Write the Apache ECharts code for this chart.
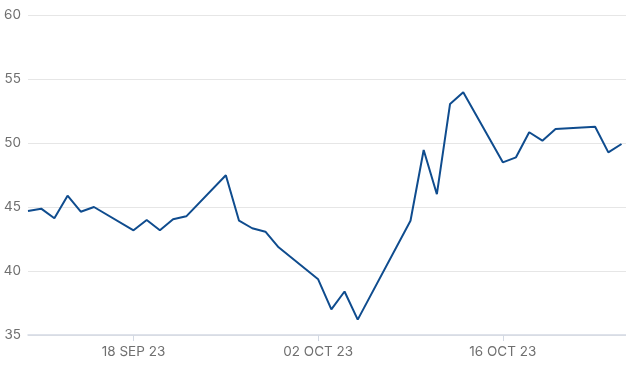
<!DOCTYPE html>
<html>
<head>
<meta charset="utf-8">
<script src="https://cdn.jsdelivr.net/npm/echarts@6/dist/echarts.min.js"></script>
<style>
html,body{margin:0;padding:0;background:#fff;}
#c{width:626px;height:377px;}
</style>
</head>
<body>
<div id="c"></div>
<script>
var dates = [
  '2023-09-10','2023-09-11','2023-09-12','2023-09-13','2023-09-14','2023-09-15',
  '2023-09-18','2023-09-19','2023-09-20','2023-09-21','2023-09-22',
  '2023-09-25','2023-09-26','2023-09-27','2023-09-28','2023-09-29',
  '2023-10-02','2023-10-03','2023-10-04','2023-10-05',
  '2023-10-09','2023-10-10','2023-10-11','2023-10-12','2023-10-13',
  '2023-10-16','2023-10-17','2023-10-18','2023-10-19','2023-10-20',
  '2023-10-23','2023-10-24','2023-10-25'
];
var values = [
  44.69, 44.87, 44.12, 45.88, 44.63, 45.00,
  43.18, 43.98, 43.18, 44.04, 44.27,
  47.48, 43.93, 43.34, 43.07, 41.85,
  39.35, 37.00, 38.40, 36.20,
  43.93, 49.45, 46.00, 53.05, 53.96,
  48.49, 48.88, 50.84, 50.18, 51.10,
  51.27, 49.27, 49.92
];
var xTickDates = ['2023-09-18','2023-10-02','2023-10-16'];
var xTickLabels = ['18 SEP 23','02 OCT 23','16 OCT 23'];
var yTicks = [35, 40, 45, 50, 55, 60];

var DAY = 86400000;
function ts(d){ return Date.parse(d + 'T00:00:00Z'); }
var origin = ts(dates[0]);
function dayOf(d){ return Math.round((ts(d) - origin) / DAY); }
var tickDays = xTickDates.map(dayOf);
var labelMap = {};
tickDays.forEach(function(t, i){ labelMap[t] = xTickLabels[i]; });

var chart = echarts.init(document.getElementById('c'), null, {renderer:'canvas'});
chart.setOption({
  animation: false,
  grid: {left: 28, right: 0, top: 15, bottom: 42, containLabel: false},
  xAxis: {
    type: 'value',
    min: 0,
    max: 45.34,
    axisLine: {show: true, lineStyle: {color: '#d3d9e3', width: 1.5}},
    axisTick: {show: true, length: 6, lineStyle: {color: '#d3d9e3', width: 1}, customValues: tickDays},
    axisLabel: {
      customValues: tickDays,
      formatter: function(v){ return labelMap[Math.round(v)] || ''; },
      color: '#6f6f6f',
      fontSize: 13.5,
      fontFamily: 'Inter, Liberation Sans, sans-serif',
      margin: 10
    },
    splitLine: {show: false}
  },
  yAxis: {
    type: 'value',
    min: yTicks[0],
    max: yTicks[yTicks.length - 1],
    interval: 5,
    axisLine: {show: false},
    axisTick: {show: false},
    axisLabel: {
      color: '#6f6f6f',
      fontSize: 13.5,
      fontFamily: 'Inter, Liberation Sans, sans-serif',
      margin: 7
    },
    splitLine: {lineStyle: {color: '#e6e6e6', width: 1}}
  },
  series: [{
    type: 'line',
    data: dates.map(function(d, i){ return [dayOf(d), values[i]]; }),
    showSymbol: false,
    symbol: 'none',
    lineStyle: {color: '#0f4c8e', width: 2},
    itemStyle: {color: '#0f4c8e'}
  }]
});
</script>
</body>
</html>
